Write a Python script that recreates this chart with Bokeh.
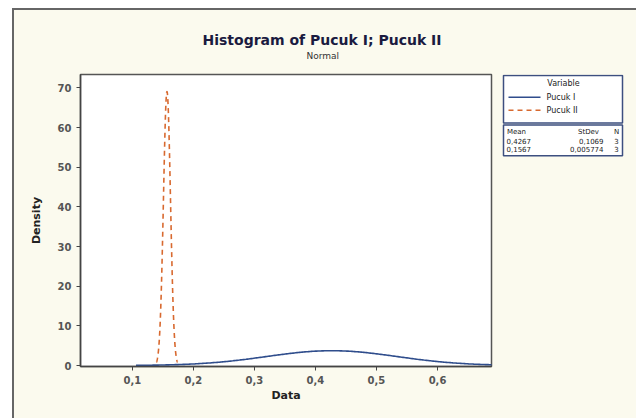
import numpy as np
from bokeh.plotting import figure
from bokeh.layouts import row
from bokeh.models import Range1d, FixedTicker, Title
from bokeh.core.properties import value
from bokeh.embed import file_html
from bokeh.resources import INLINE

# ---- data ----
series = ["Pucuk I", "Pucuk II"]
means = [0.4267, 0.1567]
stdevs = [0.1069, 0.005774]
ns = [3, 3]
mean_labels = ["0,4267", "0,1567"]
stdev_labels = ["0,1069", "0,005774"]
x_ticks = [0.1, 0.2, 0.3, 0.4, 0.5, 0.6]
x_tick_labels = ["0,1", "0,2", "0,3", "0,4", "0,5", "0,6"]
y_ticks = [0, 10, 20, 30, 40, 50, 60, 70]

colors = ["#2f4d8c", "#d8692f"]
dashes = ["solid", "5 4"]

FONT = "DejaVu Sans"
BG = "#fbfaee"
OX, OY = 14, 10          # page offset of the figures (inside outer border)
SPLIT = 494              # page x where legend panel starts
PW, PH = 636, 418
FL, FR, FT, FB = 80, 491, 74, 366   # plot frame in page px

p = figure(width=SPLIT - OX, height=PH - OY, output_backend="svg", toolbar_location=None,
           x_range=Range1d(0.015, 0.6885), y_range=Range1d(-0.25, 73.4),
           min_border_left=FL - OX, min_border_right=SPLIT - FR, min_border_top=FT - OY,
           min_border_bottom=PH - FB, title="Histogram of Pucuk I; Pucuk II")
p.background_fill_color = "white"
p.border_fill_color = BG
p.outline_line_color = "#555555"
p.outline_line_width = 1.5
p.grid.visible = False

p.title.align = "left"
p.title.offset = 322 - 120 - FL
p.title.text_font = FONT
p.title.text_font_size = "14px"
p.title.text_font_style = "bold"
p.title.text_color = "#1a1a40"
p.title.standoff = -26
p.add_layout(Title(text="Normal", align="left", offset=322 - 16 - FL,
                   text_font=FONT, text_font_size="9px", text_font_style="normal",
                   text_color="#333333", standoff=28), "above")

for ax in (p.xaxis, p.yaxis):
    ax.axis_line_color = "#444444"
    ax.axis_line_width = 1.5
    ax.major_tick_line_color = "#444444"
    ax.major_tick_in = 0
    ax.major_tick_out = 4
    ax.minor_tick_line_color = None
    ax.major_label_text_font = FONT
    ax.major_label_text_font_size = "10px"
    ax.major_label_text_font_style = "bold"
    ax.major_label_text_color = "#555555"
    ax.axis_label_text_font = FONT
    ax.axis_label_text_font_size = "11px"
    ax.axis_label_text_font_style = "bold"
    ax.axis_label_text_color = "#222222"

p.xaxis.ticker = FixedTicker(ticks=x_ticks)
p.xaxis.major_label_overrides = {t: l for t, l in zip(x_ticks, x_tick_labels)}
p.yaxis.ticker = FixedTicker(ticks=y_ticks)
p.xaxis.axis_label = "Data"
p.yaxis.axis_label = "Density"
p.xaxis.axis_label_standoff = 2
p.yaxis.axis_label_standoff = 12

# normal density curves (mean +/- 3 sd)
for m, s, c, d in zip(means, stdevs, colors, dashes):
    xs = np.linspace(m - 3 * s, m + 3 * s, 300)
    ys = np.exp(-0.5 * ((xs - m) / s) ** 2) / (s * np.sqrt(2 * np.pi))
    p.line(xs, ys, line_color=c, line_width=1.6, line_dash=d)

# ---- legend panel (its own figure; ranges in page px, frame aligned with plot frame) ----
lg = figure(width=PW - SPLIT, height=PH - OY, output_backend="svg", toolbar_location=None,
            x_range=Range1d(SPLIT, PW), y_range=Range1d(FB + 1, FT - 2),
            min_border_left=0, min_border_right=0, min_border_top=FT - OY,
            min_border_bottom=PH - FB, x_axis_location=None, y_axis_location=None)
lg.grid.visible = False
lg.outline_line_color = None
lg.background_fill_color = BG
lg.border_fill_color = BG

box_col = "#3d4f80"
lg.quad(left=[503, 503], right=[622, 622], top=[73, 123], bottom=[121, 154],
        fill_color="white", line_color=box_col, line_width=1.5)

def txt(xs, ys, texts, size, align="left"):
    lg.text(x=xs, y=ys, text=texts, text_font=value(FONT), text_font_size=value(f"{size}px"),
            text_align=align, text_baseline="middle", text_color="#222222")

txt([563], [81], ["Variable"], 8, "center")
for i, (nm, c, d) in enumerate(zip(series, colors, dashes)):
    yy = 95 + i * 13
    lg.line([508, 540], [yy, yy], line_color=c, line_width=1.5, line_dash=d)
    txt([546], [yy], [nm], 8)

txt([516, 588, 616], [130, 130, 130], ["Mean", "StDev", "N"], 7, "center")
for i in range(len(series)):
    yy = 139 + i * 8.5
    txt([506], [yy], [mean_labels[i]], 7)
    txt([603], [yy], [stdev_labels[i]], 7, "right")
    txt([616], [yy], [str(ns[i])], 7, "center")

layout = row(p, lg, margin=(8, 0, 0, 12),
             styles={"border-left": "2px solid #666666", "border-top": "2px solid #666666",
                     "background-color": BG})

open("out.html", "w").write(file_html(layout, INLINE))
